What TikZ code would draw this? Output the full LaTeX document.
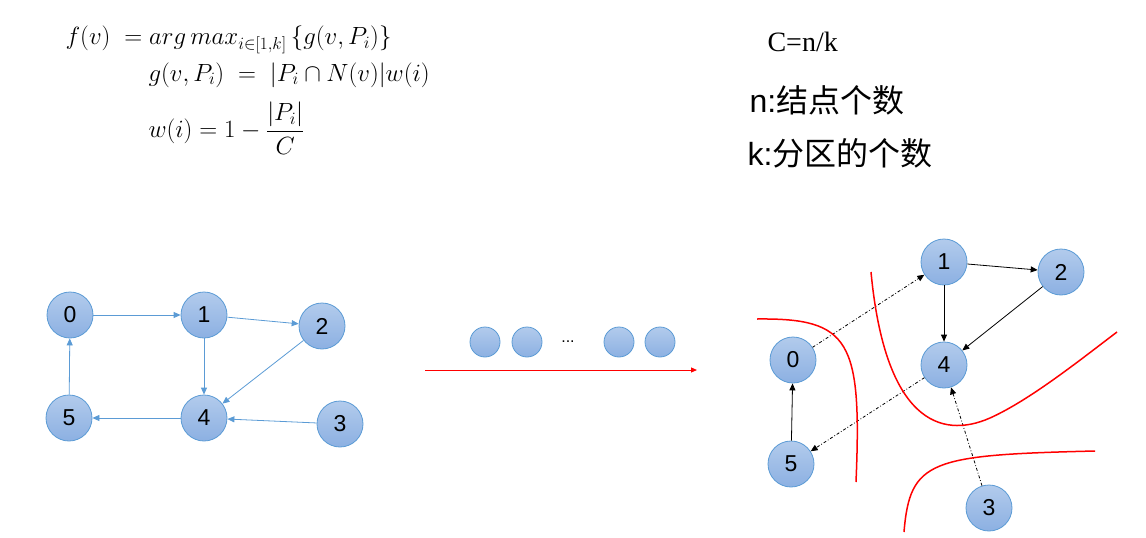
\documentclass[tikz,border=0pt]{standalone}
\usepackage{fontspec}
\newfontfamily\cjk{Noto Sans CJK SC}
\newfontfamily\lsans{Liberation Sans}
\newfontfamily\lserif{Liberation Serif}
\usetikzlibrary{arrows.meta}
\definecolor{ntop}{RGB}{178,203,236}
\definecolor{nbot}{RGB}{140,176,226}
\definecolor{nedge}{RGB}{91,155,213}
\begin{document}
\begin{tikzpicture}[x=1pt,y=-1pt,
  vtx/.style={circle,draw=nedge,line width=0.8pt,minimum size=46pt,inner sep=0pt,
    top color=ntop,bottom color=nbot,font=\lsans\fontsize{23}{23}\selectfont},
  small/.style={vtx,minimum size=30pt},
  bl/.style={draw=nedge,line width=0.8pt,-{Triangle[length=7pt,width=6pt]}},
  bk/.style={draw=black,line width=0.8pt,-{Triangle[length=7pt,width=6pt]}},
  dd/.style={bk,dash dot},
  rc/.style={draw=red,line width=1.5pt}]
\useasboundingbox (0,0) rectangle (1146,538);
% formulas
\node[anchor=west,font=\fontsize{23}{23}\selectfont] (f1) at (62,40) {$f(v)\ =arg\,max_{i\in[1,k]}\,\{g(v,P_i)\}$};
\node[anchor=west,font=\fontsize{23}{23}\selectfont] (f2) at (145,75) {$g(v,P_i)\ =\ |P_i\cap N(v)|w(i)$};
\node[anchor=west,font=\fontsize{23}{23}\selectfont] (f3) at (145,128) {$\displaystyle w(i)=1-\frac{|P_i|}{C}$};
\node[anchor=west,font=\lserif\fontsize{28}{28}\selectfont] (t1) at (764,42) {C=n/k};
\node[anchor=west,font=\lsans\fontsize{32}{32}\selectfont] (t2) at (746,100) {n:{\cjk 结点个数}};
\node[anchor=west,font=\lsans\fontsize{32}{32}\selectfont] (t3) at (744,153) {k:{\cjk 分区的个数}};
% left graph
\node[vtx] (a0) at (70,315) {0};
\node[vtx] (a1) at (204,315) {1};
\node[vtx] (a2) at (322,326) {2};
\node[vtx] (a5) at (69,418) {5};
\node[vtx] (a4) at (204,418) {4};
\node[vtx] (a3) at (340,424) {3};
\draw[bl] (a0)--(a1); \draw[bl] (a1)--(a2); \draw[bl] (a1)--(a4);
\draw[bl] (a2)--(a4); \draw[bl] (a3)--(a4); \draw[bl] (a4)--(a5); \draw[bl] (a5)--(a0);
% middle
\node[small] (m1) at (485,342) {};
\node[small] (m2) at (527,342) {};
\node[font=\lsans\fontsize{16}{16}\selectfont] (md) at (568,342) {...};
\node[small] (m3) at (619,342) {};
\node[small] (m4) at (660,342) {};
\coordinate (r1) at (425,370); \coordinate (r2) at (697,370);
\draw[draw=red,line width=1pt,-{Triangle[length=6pt,width=5pt]}] (r1)--(r2);
% right graph
\node[vtx] (b0) at (793,360) {0};
\node[vtx] (b1) at (944,262) {1};
\node[vtx] (b2) at (1061,272) {2};
\node[vtx] (b4) at (944,365) {4};
\node[vtx] (b5) at (791,464) {5};
\node[vtx] (b3) at (989,508) {3};
\draw[bk] (b1)--(b2); \draw[bk] (b1)--(b4); \draw[bk] (b2)--(b4); \draw[bk] (b5)--(b0);
\draw[dd] (b0)--(b1); \draw[dd] (b4)--(b5); \draw[dd] (b3)--(b4);
% red cuts
\draw[rc] (757,319) .. controls (850,318) and (862,340) .. (856,482);
\draw[rc] (871,272) .. controls (885,420) and (940,440) .. (990,418) .. controls (1030,400) and (1080,360) .. (1117,332);
\draw[rc] (904,532) .. controls (910,460) and (930,455) .. (1095,451);
\end{tikzpicture}
\end{document}
